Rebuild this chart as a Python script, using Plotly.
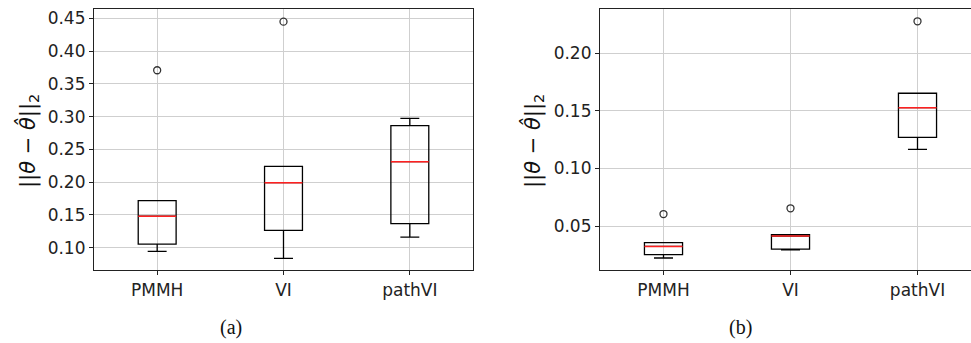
import plotly.graph_objects as go

methods = ["PMMH", "VI", "pathVI"]

# Panel (a)
a_lower = [0.0945, 0.0838, 0.1163]
a_q1 = [0.1056, 0.1265, 0.1366]
a_median = [0.148, 0.1992, 0.2312]
a_q3 = [0.1717, 0.2242, 0.2862]
a_upper = [0.1717, 0.2242, 0.2974]
a_outliers = [[0.3707], [0.4448], []]

# Panel (b)
b_lower = [0.0222, 0.0292, 0.1166]
b_q1 = [0.0251, 0.0300, 0.1270]
b_median = [0.0323, 0.0413, 0.1528]
b_q3 = [0.0355, 0.0425, 0.1653]
b_upper = [0.0355, 0.0425, 0.1653]
b_outliers = [[0.0604], [0.0654], [0.2278]]

a_ticks = [0.10, 0.15, 0.20, 0.25, 0.30, 0.35, 0.40, 0.45]
b_ticks = [0.05, 0.10, 0.15, 0.20]

BOX_W = 0.3
FONT = "DejaVu Sans"

fig = go.Figure()


def add_panel(xa, ya, lower, q1, med, q3, upper, outl):
    pos = list(range(len(methods)))
    for i in pos:
        fig.add_trace(go.Box(
            x=[i], lowerfence=[lower[i]], q1=[q1[i]], median=[med[i]],
            q3=[q3[i]], upperfence=[upper[i]], width=BOX_W, whiskerwidth=0.5,
            line=dict(color="black", width=1.3), fillcolor="rgba(0,0,0,0)",
            boxpoints=False, xaxis=xa, yaxis=ya, showlegend=False,
            hoverinfo="skip"))
        fig.add_trace(go.Scatter(
            x=[i - BOX_W / 2, i + BOX_W / 2], y=[med[i], med[i]], mode="lines",
            line=dict(color="#ff2020", width=1.5), xaxis=xa, yaxis=ya,
            showlegend=False, hoverinfo="skip"))
        if outl[i]:
            fig.add_trace(go.Scatter(
                x=[i] * len(outl[i]), y=outl[i], mode="markers",
                marker=dict(symbol="circle-open", size=7,
                            line=dict(color="#333333", width=1.3),
                            color="#333333"),
                xaxis=xa, yaxis=ya, showlegend=False, hoverinfo="skip"))


add_panel("x", "y", a_lower, a_q1, a_median, a_q3, a_upper, a_outliers)
add_panel("x2", "y2", b_lower, b_q1, b_median, b_q3, b_upper, b_outliers)

W, H = 971, 343
ydom = [(H - 270) / H, (H - 9.3) / H]

axis_common = dict(showgrid=True, gridcolor="#cfcfcf", gridwidth=1,
                   zeroline=False, showline=True, linecolor="#222222",
                   linewidth=1.2, ticks="outside", ticklen=4,
                   tickcolor="#222222",
                   tickfont=dict(family=FONT, size=17, color="#222222"))

fig.update_layout(
    width=W, height=H, margin=dict(l=0, r=0, t=0, b=0),
    paper_bgcolor="white", plot_bgcolor="white",
    xaxis=dict(domain=[94 / W, 473 / W], range=[-0.5, 2.5],
               tickvals=[0, 1, 2], ticktext=methods, mirror=True,
               anchor="y", **axis_common),
    yaxis=dict(domain=ydom, range=[0.0660, 0.4637], tickvals=a_ticks,
               tickformat=".2f", mirror=True, anchor="x", **axis_common),
    xaxis2=dict(domain=[600 / W, 1.0], range=[-0.5, -0.5 + 371 / 127],
                tickvals=[0, 1, 2], ticktext=methods, mirror=True,
                anchor="y2", **axis_common),
    yaxis2=dict(domain=ydom, range=[0.0118, 0.2382], tickvals=b_ticks,
                tickformat=".2f", mirror=False, anchor="x2", **axis_common),
)

label = "||<i>θ</i> − <i>θ̂</i>||<sub>2</sub>"
for xc in (28, 533):
    fig.add_annotation(x=xc / W, y=(H - 141) / H, xref="paper", yref="paper",
                       text=label, textangle=-90, showarrow=False,
                       font=dict(family=FONT, size=21, color="#111111"),
                       xanchor="center", yanchor="middle")

for txt, xc in (("(a)", 231), ("(b)", 740)):
    fig.add_annotation(x=xc / W, y=(H - 327) / H, xref="paper", yref="paper",
                       text=txt, showarrow=False,
                       font=dict(family="Liberation Serif", size=20,
                                 color="#111111"),
                       xanchor="center", yanchor="middle")

fig.write_html("out.html")
